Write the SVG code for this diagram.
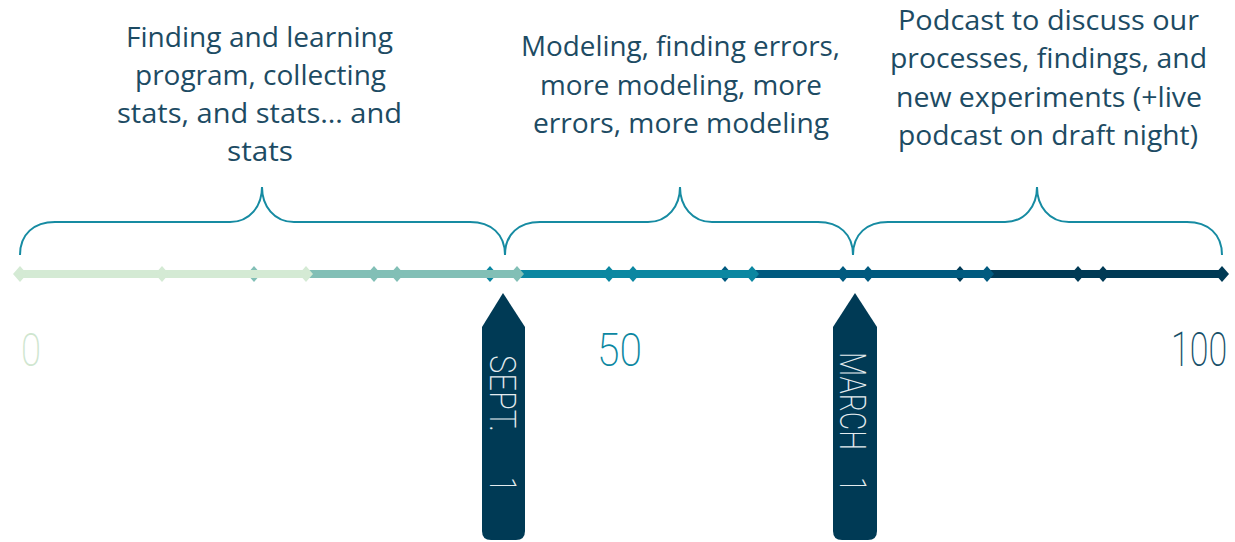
<svg xmlns="http://www.w3.org/2000/svg" width="1235" height="542" viewBox="0 0 1235 542">
<style>
.lbl{font-family:"Open Sans","Noto Sans",sans-serif;font-size:28px;fill:#1d4b63;}
.num{font-family:Roboto,"Liberation Sans",sans-serif;font-weight:200;font-size:47px;}
.brace{fill:none;stroke:#168ba2;stroke-width:2;}
.ptr{fill:#003a55;}
.ptxt{font-family:Roboto,"Liberation Sans",sans-serif;font-weight:200;font-size:37px;fill:#e4ecef;}
</style>
<defs>
<path id="dm" d="M0,-8 L7,0 L0,8 L-7,0 Z"/>
</defs>
<rect width="1235" height="542" fill="#ffffff"/>

<g id="labels">
<g id="label-1" class="lbl" text-anchor="start">
<text x="126" y="47" textLength="267" lengthAdjust="spacingAndGlyphs">Finding and learning</text>
<text x="135" y="85" textLength="251" lengthAdjust="spacingAndGlyphs">program, collecting</text>
<text x="117" y="123" textLength="285" lengthAdjust="spacingAndGlyphs">stats, and stats… and</text>
<text x="227" y="161" textLength="66" lengthAdjust="spacingAndGlyphs">stats</text>
</g>
<g id="label-2" class="lbl">
<text x="521" y="56" textLength="319" lengthAdjust="spacingAndGlyphs">Modeling, finding errors,</text>
<text x="540" y="95" textLength="282" lengthAdjust="spacingAndGlyphs">more modeling, more</text>
<text x="533" y="133" textLength="296" lengthAdjust="spacingAndGlyphs">errors, more modeling</text>
</g>
<g id="label-3" class="lbl">
<text x="898" y="30" textLength="301" lengthAdjust="spacingAndGlyphs">Podcast to discuss our</text>
<text x="890" y="68" textLength="317" lengthAdjust="spacingAndGlyphs">processes, findings, and</text>
<text x="896" y="107" textLength="306" lengthAdjust="spacingAndGlyphs">new experiments (+live</text>
<text x="898" y="145" textLength="300" lengthAdjust="spacingAndGlyphs">podcast on draft night)</text>
</g>
</g>

<g id="braces">
<path id="brace-1" class="brace" d="M20,255 C20,234 34,222 55,222 L230,222 C250,222 262,206 262,187 C262,206 274,222 294,222 L470,222 C491,222 505,234 505,255"/>
<path id="brace-2" class="brace" d="M505,255 C505,234 519,222 540,222 L648,222 C668,222 680,206 680,187 C680,206 692,222 712,222 L818,222 C839,222 853,234 853,255"/>
<path id="brace-3" class="brace" d="M853,255 C853,234 867,222 888,222 L1005,222 C1025,222 1037,206 1037,187 C1037,206 1049,222 1069,222 L1187,222 C1208,222 1222,234 1222,255"/>
</g>

<g id="timeline">
<g id="seg-5" fill="#003a55">
<rect x="960" y="270" width="262" height="8"/>
<use href="#dm" x="960" y="274"/><use href="#dm" x="1078" y="274"/><use href="#dm" x="1103" y="274"/><use href="#dm" x="1222" y="274"/>
</g>
<g id="seg-4" fill="#005a7f">
<rect x="725" y="270" width="262" height="8"/>
<use href="#dm" x="725" y="274"/><use href="#dm" x="843" y="274"/><use href="#dm" x="868" y="274"/><use href="#dm" x="987" y="274"/>
</g>
<g id="seg-3" fill="#0b87a1">
<rect x="490" y="270" width="262" height="8"/>
<use href="#dm" x="490" y="274"/><use href="#dm" x="609" y="274"/><use href="#dm" x="633" y="274"/><use href="#dm" x="752" y="274"/>
</g>
<g id="seg-2" fill="#82bfb6">
<rect x="254" y="270" width="263" height="8"/>
<use href="#dm" x="254" y="274"/><use href="#dm" x="374" y="274"/><use href="#dm" x="397" y="274"/><use href="#dm" x="517" y="274"/>
</g>
<g id="seg-1" fill="#d4ead4">
<rect x="20" y="270" width="286" height="8"/>
<use href="#dm" x="20" y="274"/><use href="#dm" x="162" y="274"/><use href="#dm" x="306" y="274"/>
</g>
</g>

<g id="numbers" class="num">
<text id="n0" x="21" y="366" fill="#cfe6cf" textLength="20" lengthAdjust="spacingAndGlyphs">0</text>
<text id="n50" x="597" y="366" fill="#0b87a1" textLength="45" lengthAdjust="spacingAndGlyphs">50</text>
<text id="n100" transform="translate(1171,366) scale(0.85,1.18)" x="0" y="0" fill="#174f69" style="font-size:40px">100</text>
</g>

<g id="marker-sept">
<path class="ptr" d="M503,293 L525,327 L525,531 Q525,540 516,540 L491,540 Q482,540 482,531 L482,327 Z"/>
<g transform="translate(490,355) rotate(90)" class="ptxt">
<text x="0" y="0" textLength="77" lengthAdjust="spacingAndGlyphs">SEPT.</text>
<text x="122" y="0" textLength="15" lengthAdjust="spacingAndGlyphs">1</text>
</g>
</g>

<g id="marker-march">
<path class="ptr" d="M855,293 L877,327 L877,531 Q877,540 868,540 L842,540 Q833,540 833,531 L833,327 Z"/>
<g transform="translate(840,352) rotate(90)" class="ptxt">
<text x="0" y="0" textLength="98" lengthAdjust="spacingAndGlyphs">MARCH</text>
<text x="125" y="0" textLength="15" lengthAdjust="spacingAndGlyphs">1</text>
</g>
</g>
</svg>
